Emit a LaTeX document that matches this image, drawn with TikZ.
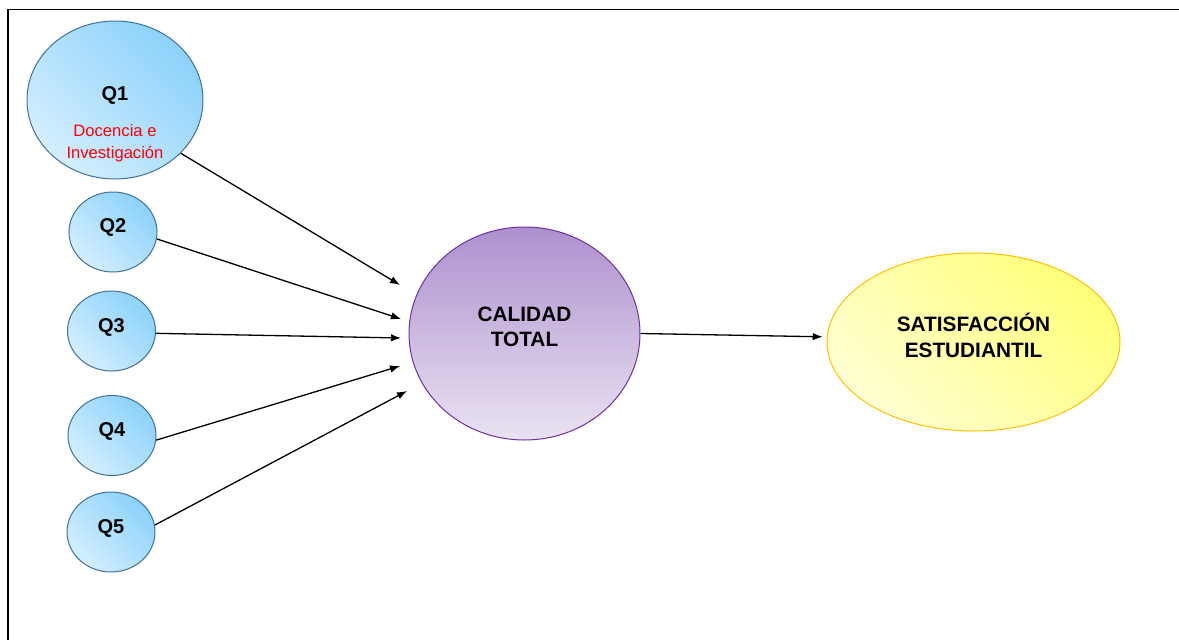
\documentclass[tikz,border=0pt]{standalone}
\usepackage{fontspec}
\setmainfont{Liberation Sans}
\usetikzlibrary{shapes.geometric,arrows.meta}
\definecolor{qdark}{HTML}{8CD2FB}
\definecolor{qpale}{HTML}{D4EEFE}
\definecolor{qedge}{HTML}{41719C}
\definecolor{caltop}{HTML}{AD90CE}
\definecolor{calbot}{HTML}{EAE3F2}
\definecolor{caledge}{HTML}{7030A0}
\definecolor{satdark}{HTML}{FFFF7A}
\definecolor{satpale}{HTML}{FFFFD2}
\definecolor{satedge}{HTML}{FFC000}
\tikzset{
	qcirc/.style={ellipse, draw=qedge, line width=1pt, top color=qdark, bottom color=qpale,
			shading angle=-45, minimum width=88pt, minimum height=80pt, inner sep=0pt},
	bigtext/.style={font=\fontsize{20.8}{25.5}\selectfont\bfseries, align=center, inner sep=0pt},
	qlabel/.style={bigtext, font=\fontsize{20}{24}\selectfont\bfseries, text height=14.3pt, text depth=0pt},
	redtext/.style={font=\fontsize{16.6}{21.5}\selectfont, text=red, align=center, inner sep=0pt},
	arr/.style={line width=1.3pt, -{Latex[length=10pt,width=7.5pt]}}
}
\begin{document}
\begin{tikzpicture}[x=1pt,y=1pt]
	\useasboundingbox (0,0) rectangle (1179,-640);
	% frame
	\draw[line width=1.5pt] (8,-640) -- (8,-9.5) -- (1179,-9.5);

	% dimensions
	\node[qcirc, minimum width=176pt, minimum height=158pt] (q1) at (115,-100) {};
	\node[qcirc] (q2) at (113,-232) {};
	\node[qcirc] (q3) at (111.5,-331) {};
	\node[qcirc] (q4) at (112,-435.5) {};
	\node[qcirc] (q5) at (111,-532) {};

	\node[qlabel] (q1t) at (115,-93) {Q1};
	\node[redtext] (q1d) at (115,-143) {Docencia e\\Investigación};
	\node[qlabel] (q2t) at ([yshift=7pt]q2.center) {Q2};
	\node[qlabel] (q3t) at ([yshift=6pt]q3.center) {Q3};
	\node[qlabel] (q4t) at ([yshift=6pt]q4.center) {Q4};
	\node[qlabel] (q5t) at ([yshift=6pt]q5.center) {Q5};

	% constructs
	\node[ellipse, draw=caledge, line width=1pt, top color=caltop, bottom color=calbot,
		minimum width=231pt, minimum height=213pt] (cal) at (524.5,-333.5) {};
	\node[bigtext] (calt) at (524.5,-327) {CALIDAD\\TOTAL};

	\node[ellipse, draw=satedge, line width=1pt, top color=satdark, bottom color=satpale,
		shading angle=-45, minimum width=293pt, minimum height=178pt] (sat) at (973.5,-342) {};
	\node[bigtext] (satt) at (973.5,-335.5) {SATISFACCIÓN\\ESTUDIANTIL};

	% arrow ends
	\coordinate (in1) at (400,-285);
	\coordinate (in2) at (401,-319);
	\coordinate (in3) at (401,-338);
	\coordinate (in4) at (400,-366);
	\coordinate (in5) at (407,-391);

	\draw[arr] (q1.-39) -- (in1);
	\draw[arr] (q2.-9) -- (in2);
	\draw[arr] (q3.-3) -- (in3);
	\draw[arr] (q4.-6) -- (in4);
	\draw[arr] (q5.9) -- (in5);
	\draw[arr, shorten >=4pt] (cal.east) -- (sat.178);
\end{tikzpicture}
\end{document}
